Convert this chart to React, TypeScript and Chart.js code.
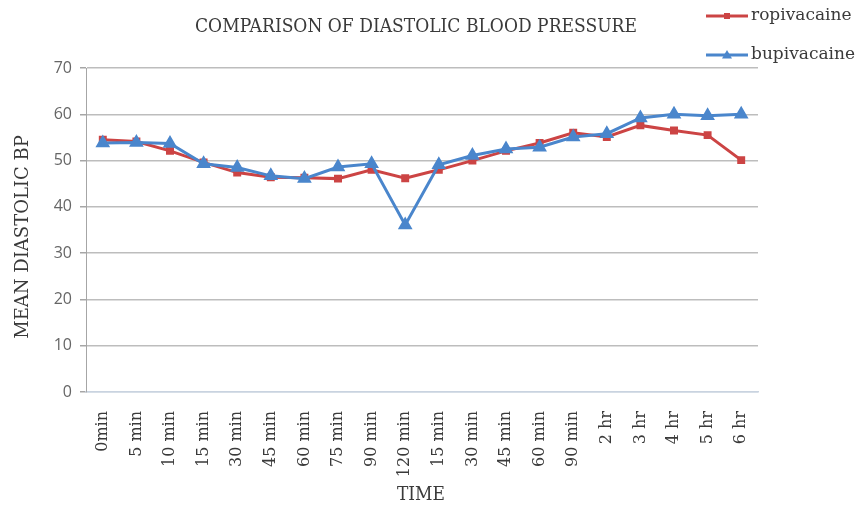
import React, { useEffect, useRef } from "react";
import { Chart, registerables } from "chart.js";

Chart.register(...registerables);

const categories = [
  "0min", "5 min", "10 min", "15 min", "30 min", "45 min", "60 min", "75 min", "90 min", "120 min",
  "15 min", "30 min", "45 min", "60 min", "90 min", "2 hr", "3 hr", "4 hr", "5 hr", "6 hr",
];
const ropivacaine = [54.5, 54.1, 52.1, 49.6, 47.4, 46.4, 46.3, 46.1, 48.0, 46.2, 48.0, 50.0, 52.1, 53.8, 56.0, 55.1, 57.6, 56.5, 55.5, 50.1];
const bupivacaine = [53.8, 53.9, 53.7, 49.3, 48.5, 46.7, 46.1, 48.6, 49.3, 36.1, 49.1, 51.1, 52.5, 52.9, 55.1, 55.8, 59.2, 60.0, 59.7, 60.0];
const yTicks = [0, 10, 20, 30, 40, 50, 60, 70];

const chartTitle = "COMPARISON OF DIASTOLIC BLOOD PRESSURE";
const xTitle = "TIME";
const yTitle = "MEAN DIASTOLIC BP";

const RED = "#cc4444";
const BLUE = "#4a86cc";
const SERIF = "'DejaVu Serif', serif";

const decorPlugin = {
  id: "decor",
  afterDraw(chart: any) {
    const ctx = chart.ctx;
    const ca = chart.chartArea;
    ctx.save();
    ctx.fillStyle = "#3a3a3a";
    ctx.textAlign = "center";
    ctx.textBaseline = "middle";
    // title
    ctx.font = `18px ${SERIF}`;
    ctx.fillText(chartTitle, 416, 27, 442);
    // x title
    ctx.font = `18px ${SERIF}`;
    ctx.fillText(xTitle, 421, 495, 48);
    // y title
    ctx.save();
    ctx.translate(23, 237);
    ctx.rotate(-Math.PI / 2);
    ctx.font = `18px ${SERIF}`;
    ctx.fillText(yTitle, 0, 0, 214);
    ctx.restore();
    // legend
    const items = chart.data.datasets;
    const ys = [16, 55];
    items.forEach((ds: any, i: number) => {
      const y = ys[i];
      ctx.strokeStyle = ds.borderColor;
      ctx.lineWidth = 3;
      ctx.beginPath();
      ctx.moveTo(706, y);
      ctx.lineTo(748, y);
      ctx.stroke();
      ctx.fillStyle = ds.backgroundColor;
      if (ds.pointStyle === "triangle") {
        const r = 5;
        ctx.beginPath();
        ctx.moveTo(727, y - r);
        ctx.lineTo(727 + r, y + r * 0.7);
        ctx.lineTo(727 - r, y + r * 0.7);
        ctx.closePath();
        ctx.fill();
      } else {
        ctx.fillRect(724, y - 3, 6, 6);
      }
      ctx.fillStyle = "#3a3a3a";
      ctx.textAlign = "left";
      ctx.font = `17px ${SERIF}`;
      ctx.fillText(ds.label, 751, y, 108);
    });
    ctx.restore();
  },
};

export default function App() {
  const ref = useRef<HTMLCanvasElement | null>(null);
  useEffect(() => {
    if (!ref.current) return;
    const chart = new Chart(ref.current, {
      type: "line",
      data: {
        labels: categories,
        datasets: [
          {
            label: "ropivacaine",
            data: ropivacaine,
            borderColor: RED,
            backgroundColor: RED,
            borderWidth: 3,
            pointStyle: "rect",
            pointRadius: 3.5,
            pointHoverRadius: 3.5,
            tension: 0,
            order: 1,
          },
          {
            label: "bupivacaine",
            data: bupivacaine,
            borderColor: BLUE,
            backgroundColor: BLUE,
            borderWidth: 3,
            pointStyle: "triangle",
            pointRadius: 5.5,
            pointHoverRadius: 5.5,
            tension: 0,
            order: 0,
          },
        ],
      },
      options: {
        animation: false,
        responsive: false,
        maintainAspectRatio: false,
        layout: { padding: { left: 0, right: 106, top: 68, bottom: 0 } },
        plugins: {
          legend: { display: false },
          title: { display: false },
          tooltip: { enabled: false },
        },
        scales: {
          x: {
            type: "category",
            offset: true,
            grid: { display: false, drawTicks: false },
            border: { display: true, color: "#c9d3e0", width: 1.5 },
            ticks: {
              minRotation: 90,
              maxRotation: 90,
              autoSkip: false,
              padding: 19,
              color: "#3a3a3a",
              font: { family: "DejaVu Serif", size: 16 },
            },
            afterFit: (s: any) => {
              s.height = 114;
            },
          },
          y: {
            min: 0,
            max: 70,
            afterBuildTicks: (s: any) => {
              s.ticks = yTicks.map((v) => ({ value: v }));
            },
            grid: {
              color: (c: any) => (c.tick && c.tick.value === 0 ? "#c9d3e0" : "#bdbdbd"),
              lineWidth: 1.5,
              tickLength: 6,
              tickColor: "#a6a6a6",
            },
            border: { display: true, color: "#a6a6a6", width: 1 },
            ticks: {
              padding: 8,
              color: "#666666",
              font: { family: "Open Sans", size: 16 },
            },
            afterFit: (s: any) => {
              s.width = 86;
            },
          },
        },
      },
      plugins: [decorPlugin],
    });
    return () => chart.destroy();
  }, []);
  return (
    <div style={{ position: "fixed", left: 0, top: 0, width: 864, height: 506, background: "#fff" }}>
      <canvas ref={ref} width={864} height={506} style={{ width: 864, height: 506, display: "block" }} />
    </div>
  );
}
